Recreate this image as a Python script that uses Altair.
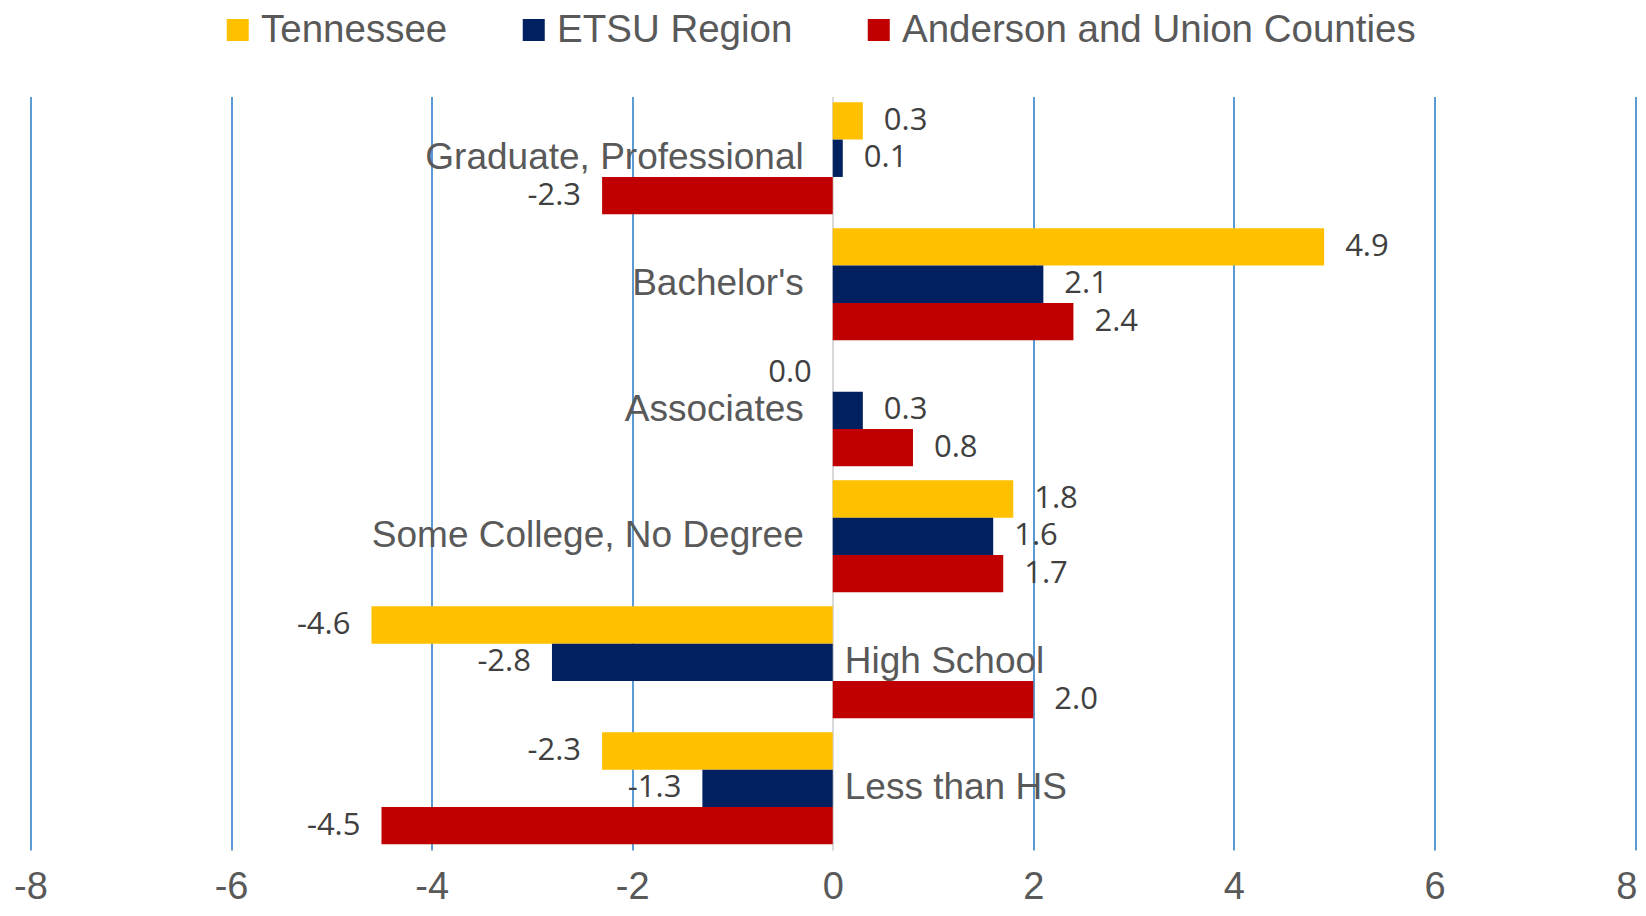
import altair as alt
import pandas as pd

categories = ["Graduate, Professional", "Bachelor's", "Associates",
              "Some College, No Degree", "High School", "Less than HS"]
series = ["Tennessee", "ETSU Region", "Anderson and Union Counties"]
tennessee = [0.3, 4.9, 0.0, 1.8, -4.6, -2.3]
etsu = [0.1, 2.1, 0.3, 1.6, -2.8, -1.3]
anderson = [-2.3, 2.4, 0.8, 1.7, 2.0, -4.5]
label_side = ["left", "left", "left", "left", "right", "right"]
colors = ["#FFC000", "#002060", "#C00000"]
x_ticks = [-8, -6, -4, -2, 0, 2, 4, 6, 8]

rows = []
for s, vals in zip(series, [tennessee, etsu, anderson]):
    for c, v in zip(categories, vals):
        rows.append({"category": c, "series": s, "value": v, "label": f"{v:.1f}"})
df = pd.DataFrame(rows)
cat_df = pd.DataFrame({"category": categories, "side": label_side, "zero": [0] * len(categories)})

y_enc = alt.Y("category:N", sort=categories,
              scale=alt.Scale(paddingInner=0.111, paddingOuter=0.045), axis=None)
yoff_enc = alt.YOffset("series:N", sort=series,
                       scale=alt.Scale(domain=series, paddingInner=0, paddingOuter=0))
x_enc = alt.X("value:Q",
              scale=alt.Scale(domain=[-8, 8], nice=False, zero=False),
              axis=alt.Axis(values=x_ticks, grid=True,
                            gridColor={"condition": {"test": "datum.value === 0", "value": "#D9D9D9"},
                                       "value": "#5B9BD5"},
                            gridWidth=2, domain=False, ticks=False, tickSize=0,
                            labelExpr="'' + datum.value",
                            labelAlign={"condition": {"test": "datum.value === 8", "value": "right"},
                                        "value": "center"},
                            labelOffset={"condition": {"test": "datum.value === 8", "value": 2},
                                         "value": 0},
                            labelFontSize=38, labelFont="Liberation Sans",
                            labelColor="#595959", labelPadding=48,
                            labelBaseline="alphabetic", labelFlush=False,
                            labelOverlap=False, title=None))

base = alt.Chart(df)

bars = base.mark_bar().encode(
    x=x_enc,
    y=y_enc,
    yOffset=yoff_enc,
    color=alt.Color("series:N", sort=series,
                    scale=alt.Scale(domain=series, range=colors),
                    legend=alt.Legend(orient="none", legendX=188, legendY=-86,
                                      direction="horizontal", title=None,
                                      symbolType="square", symbolSize=484,
                                      symbolStrokeWidth=0, labelLimit=0,
                                      labelFontSize=38.5, labelFont="Liberation Sans",
                                      labelColor="#595959", columnPadding=67,
                                      labelOffset=4)),
)

pos_labels = base.transform_filter("datum.value > 0").mark_text(
    align="left", baseline="middle", dx=21, font="Open Sans", fontSize=31, color="#404040"
).encode(x="value:Q", y=y_enc, yOffset=yoff_enc, text="label:N")

neg_labels = base.transform_filter("datum.value <= 0").mark_text(
    align="right", baseline="middle", dx=-21, font="Open Sans", fontSize=31, color="#404040"
).encode(x="value:Q", y=y_enc, yOffset=yoff_enc, text="label:N")

cat_base = alt.Chart(cat_df)
cat_left = cat_base.transform_filter("datum.side === 'left'").mark_text(
    align="right", baseline="middle", dx=-29, font="Liberation Sans", fontSize=37, color="#595959"
).encode(x="zero:Q", y=y_enc, text="category:N")
cat_right = cat_base.transform_filter("datum.side === 'right'").mark_text(
    align="left", baseline="middle", dx=12, font="Liberation Sans", fontSize=37, color="#595959"
).encode(x="zero:Q", y=y_enc, text="category:N")

chart = alt.layer(bars, pos_labels, neg_labels, cat_left, cat_right).properties(
    width=1604.5, height=753.4,
    autosize=alt.AutoSizeParams(type="none"),
    padding={"left": 22.5, "top": 88.6, "right": 3, "bottom": 57},
    background="white",
).configure_view(stroke=None)

chart.save("out.html", embed_options={"renderer": "svg", "actions": False})
